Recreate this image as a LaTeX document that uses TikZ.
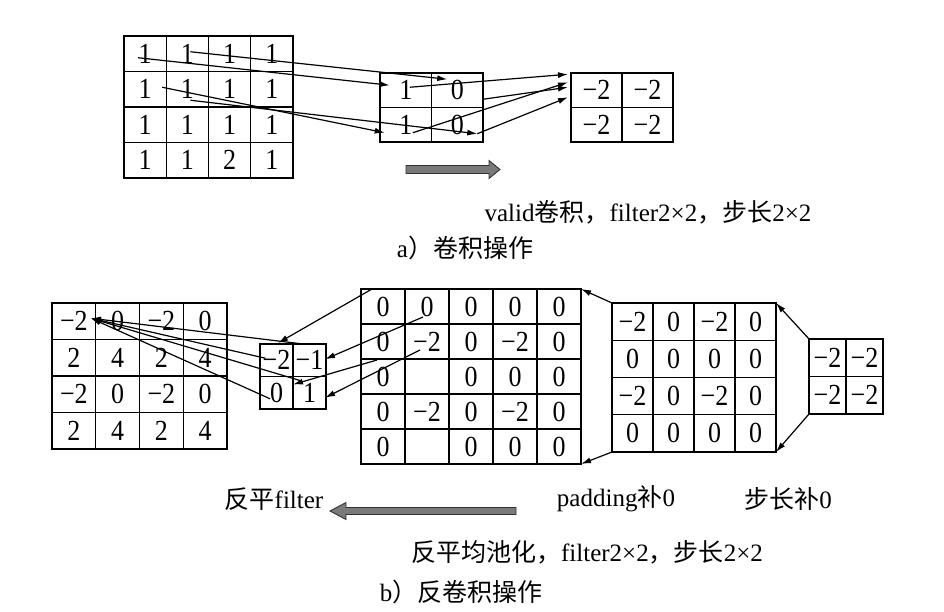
\documentclass[tikz,border=0pt]{standalone}
\usepackage{fontspec}
\setmainfont{Liberation Serif}
\newfontfamily\cjk{Noto Sans CJK SC}
\usetikzlibrary{calc,arrows.meta}
\tikzset{
  cell/.style={draw, line width=1.2pt, inner sep=0pt, outer sep=0pt, anchor=north west,
    font=\fontsize{26}{26}\selectfont},
  link/.style={line width=1.2pt, -{Latex[length=10pt,width=6pt]}},
  lbl/.style={inner sep=0pt, font=\fontsize{25}{25}\selectfont},
  blockarrow/.style={fill=black!52, draw=black!80, line width=0.9pt},
}
\newcommand\mkgrid[6]{%
  \foreach \rowvals [count=\ii from 0] in {#6} {
    \foreach \val [count=\jj from 0] in \rowvals {
      \node[cell, minimum width=#4pt, minimum height=#5pt] (#1-\ii-\jj) at ({#2+\jj*#4},{#3+\ii*#5}) {\scalebox{1}[1.12]{\val}};
    }
  }%
}
\begin{document}
\begin{tikzpicture}[x=1pt,y=-1pt]
\useasboundingbox (0,0) rectangle (944,612);
% ---------- part a ----------
\mkgrid{A}{124}{36}{42.25}{35.5}{{1,1,1,1},{1,1,1,1},{1,1,1,1},{1,1,2,1}}
\mkgrid{F}{380}{73}{51.5}{34.5}{{1,0},{1,0}}
\mkgrid{R}{571}{73}{51}{34.5}{{−2,−2},{−2,−2}}
% input -> filter
\draw[link] ($(A-0-0.center)+(-7,4)$) -- ($(F-0-0.center)+(-16,-5)$);
\draw[link] ($(A-0-1.center)+(3,-2)$) -- ($(F-0-1.center)+(-10,-11)$);
\draw[link] ($(A-1-0.center)+(17,-2)$) -- ($(F-1-0.center)+(-21,8)$);
\draw[link] ($(A-1-1.center)+(3,11)$) -- ($(F-1-1.center)+(20,9)$);
% filter -> result
\draw[link] ($(F-0-0.center)+(4,-3)$) -- ($(R-0-0.west)+(-3,-16)$);
\draw[link] ($(F-0-1.east)+(0,9)$) -- ($(R-0-0.west)+(-3,-3)$);
\draw[link] ($(F-1-0.center)+(7,8)$) -- ($(R-0-0.west)+(-3,-8)$);
\draw[link] ($(F-1-1.center)+(20,9)$) -- ($(R-0-0.west)+(-3,7)$);
% block arrow a
\filldraw[blockarrow] (406,165.5) -- (489,165.5) -- (489,160.5) -- (500,169.5) -- (489,178.5) -- (489,173.5) -- (406,173.5) -- cycle;
\node[lbl] (ta) at (648,212) {valid{\cjk 卷积，}filter2×2{\cjk ，步长}2×2};
\node[lbl] (ca) at (465,248) {a{\cjk ）卷积操作}};
% ---------- part b ----------
\mkgrid{O}{52}{303}{43.75}{36.5}{{−2,0,−2,0},{2,4,2,4},{−2,0,−2,0},{2,4,2,4}}
\mkgrid{K}{260}{344}{33}{32.5}{{−2,−1},{0,1}}
\mkgrid{P}{361}{289}{44}{35}{{0,0,0,0,0},{0,−2,0,−2,0},{0,{},0,0,0},{0,−2,0,−2,0},{0,{},0,0,0}}
\mkgrid{S}{612}{303}{41}{37.25}{{−2,0,−2,0},{0,0,0,0},{−2,0,−2,0},{0,0,0,0}}
\mkgrid{T}{809}{339}{37}{37.5}{{−2,−2},{−2,−2}}
% T -> S
\draw[link] (T-0-0.north west) -- (S-0-3.north east);
\draw[link] (T-1-0.south west) -- (S-3-3.south east);
% S -> P
\draw[link] (S-0-0.north west) -- (P-0-4.north east);
\draw[link] (S-3-0.south west) -- (P-4-4.south east);
% P -> K
\draw[link] ($(P-0-0.north)+(-11,0)$) -- ($(K-0-0.north)+(1.5,-1)$);
\draw[link] ($(P-0-1.center)+(-4,10.5)$) -- ($(K-0-1.east)+(-1,-1)$);
\draw[link] ($(P-2-0.center)+(-6,-16.5)$) -- ($(K-1-0.north east)+(0,8)$);
\draw[link] ($(P-1-1.center)+(-7,8.5)$) -- ($(K-1-1.east)+(-1,5)$);
% K -> O
\draw[link] ($(K-0-1.north west)+(10,0)$) -- ($(O-0-0.center)+(17,-3)$);
\draw[link] ($(K-0-0.center)+(-11,-2)$) -- ($(O-0-0.center)+(17,-3)$);
\draw[link] ($(K-1-1.north west)+(7,4)$) -- ($(O-0-0.center)+(17,-3)$);
\draw[link] ($(K-1-0.center)+(-6.5,6)$) -- ($(O-0-0.center)+(17,-3)$);
% block arrow b
\filldraw[blockarrow] (516,507.5) -- (346,507.5) -- (346,502.5) -- (330,511) -- (346,519.5) -- (346,514.5) -- (516,514.5) -- cycle;
\node[lbl] (tf) at (274,499) {{\cjk 反平}filter};
\node[lbl] (tp) at (616,499) {padding{\cjk 补}0};
\node[lbl] (ts) at (788,499) {{\cjk 步长补}0};
\node[lbl] (tb) at (587,552) {{\cjk 反平均池化，}filter2×2{\cjk ，步长}2×2};
\node[lbl] (cb) at (461,592) {b{\cjk ）反卷积操作}};
\end{tikzpicture}
\end{document}
